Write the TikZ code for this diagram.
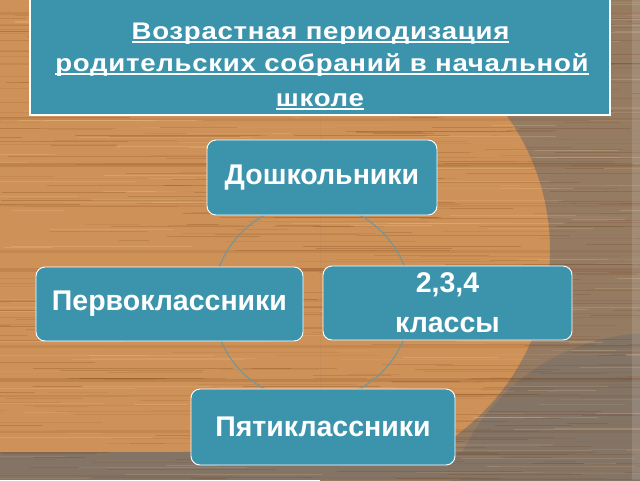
\documentclass[tikz,border=0pt]{standalone}
\usepackage{fontspec}
\setmainfont{Liberation Sans}
\newfontfamily\titlefont[FakeStretch=1.15,LetterSpace=3]{Liberation Sans}
\definecolor{woodbase}{RGB}{206,145,87}
\definecolor{woodside}{RGB}{150,123,99}
\definecolor{wooddark}{RGB}{132,116,101}
\definecolor{grain}{RGB}{110,55,15}
\definecolor{grainlight}{RGB}{250,215,165}
\definecolor{teal}{RGB}{60,148,172}
\definecolor{ringcol}{RGB}{115,150,152}
\newcommand\myul[1]{\setbox0=\hbox{#1}\rlap{\rule[-3.3pt]{\wd0}{1.6pt}}\box0}
\tikzset{
  box/.style={draw=white, line width=0.9pt, fill=teal, rounded corners=9pt,
    text=white, font=\fontsize{28.5}{32}\selectfont\bfseries, align=center, inner sep=0pt},
  titlebox/.style={draw=white, line width=1.2pt, fill=teal, inner sep=0pt},
  titletext/.style={text=white, anchor=base, inner sep=0pt,
    font=\titlefont\fontsize{24}{30}\selectfont\bfseries},
  ringline/.style={draw=ringcol, line width=1.1pt}
}
\begin{document}
\begin{tikzpicture}[x=1pt,y=-1pt]
\useasboundingbox (0,0) rectangle (640,480);
% background
\fill[woodbase] (0,0) rectangle (640,480);
\begin{scope}
  \clip (320,0) rectangle (640,480);
  \fill[woodside,even odd rule] (320,-10) rectangle (650,490) (320,250) circle (230);
\end{scope}
\fill[wooddark] (653,545) circle (212);
\fill[wooddark] (0,452) rectangle (640,480);
% broad streaks
\foreach \yy/\hh/\op in {12/3/0.12,63/2/0.1,118/3/0.1,163/4/0.16,205/2/0.08,250/3/0.1,268/4/0.14,300/2/0.08,345/3/0.1,378/4/0.16,395/2/0.1,430/3/0.1}{
  \fill[grain,opacity=\op] (0,\yy) rectangle (640,\yy+\hh);
}
% fine grain
\pgfmathsetseed{12}
\foreach \i in {1,...,520}{
  \pgfmathsetmacro\yy{480*rnd}
  \pgfmathsetmacro\xa{740*rnd-100}
  \pgfmathsetmacro\ll{30+200*rnd}
  \pgfmathsetmacro\op{0.05+0.18*rnd}
  \pgfmathsetmacro\lw{0.3+0.8*rnd}
  \draw[line width=\lw pt, draw=grain, opacity=\op] (\xa,\yy) -- ++(\ll,0);
}
\foreach \i in {1,...,220}{
  \pgfmathsetmacro\yy{480*rnd}
  \pgfmathsetmacro\xa{740*rnd-100}
  \pgfmathsetmacro\ll{30+180*rnd}
  \pgfmathsetmacro\op{0.06+0.16*rnd}
  \pgfmathsetmacro\lw{0.4+0.9*rnd}
  \draw[line width=\lw pt, draw=grainlight, opacity=\op] (\xa,\yy) -- ++(\ll,0);
}
\fill[white,opacity=0.12] (632,0) rectangle (640,480);
% ring behind the boxes
\draw[ringline] (312,302) circle (99);
% title
\node[titlebox, minimum width=580pt, minimum height=118pt] (title) at (320,56) {};
\node[titletext] (t1) at (320.5,39.3) {\myul{Возрастная периодизация}};
\node[titletext] (t2) at (322,71.5) {\myul{родительских собраний в начальной}};
\node[titletext] (t3) at (320,106.7) {\myul{школе}};
% boxes
\node[box, minimum width=230pt, minimum height=75pt] (dosh) at (322,177.5) {Дошкольники};
\node[box, minimum width=267pt, minimum height=74pt] (perv) at (169.5,304) {Первоклассники};
\node[box, minimum width=249pt, minimum height=74pt, font=\fontsize{28.5}{40}\selectfont\bfseries] (kl) at (447.5,303) {2,3,4\\классы};
\node[box, minimum width=264pt, minimum height=76pt] (pyat) at (323,427) {Пятиклассники};
\end{tikzpicture}
\end{document}
